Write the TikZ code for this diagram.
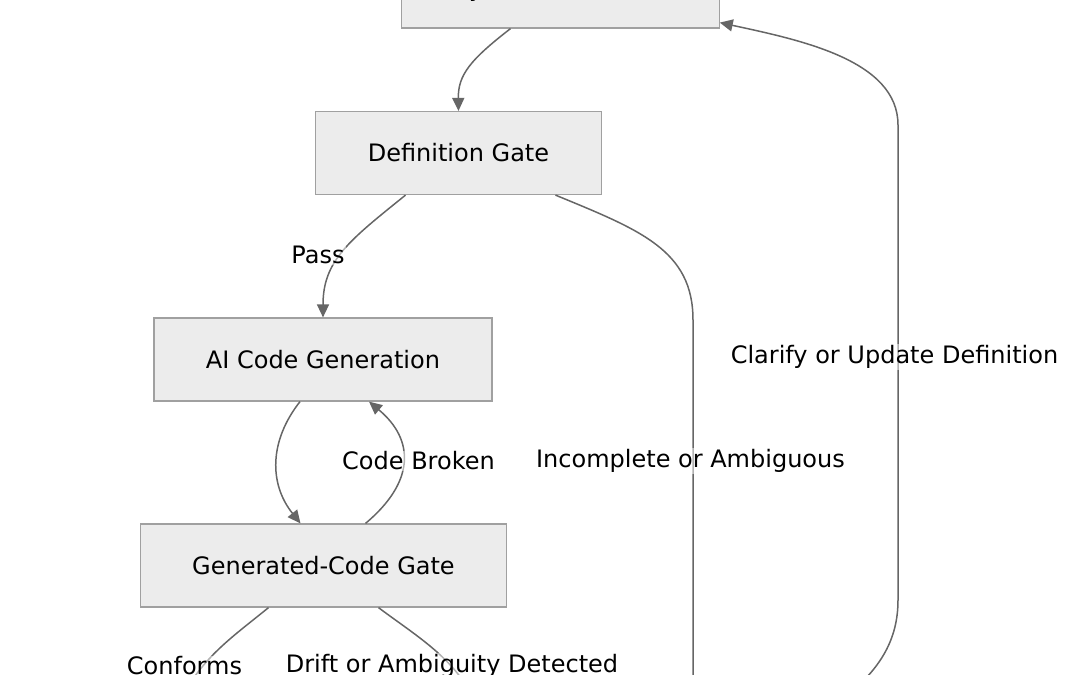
\documentclass[tikz,border=0pt]{standalone}
\usepackage{fontspec}
\setmainfont{DejaVu Sans}
\usetikzlibrary{arrows.meta}

\definecolor{boxfill}{RGB}{236,236,236}
\definecolor{boxline}{RGB}{160,160,160}
\definecolor{edgegray}{RGB}{102,102,102}

\begin{document}
\begin{tikzpicture}[x=1pt, y=-1pt,
  gate/.style={draw=boxline, fill=boxfill, line width=1.2pt, inner xsep=52pt,
    minimum height=83pt, font=\fontsize{24}{28}\selectfont, text=black},
  flow/.style={draw=edgegray, line width=1.5pt, -{Triangle[length=13pt,width=12pt]}},
  link/.style={draw=edgegray, line width=1.5pt},
  tag/.style={fill=white, fill opacity=0.5, text opacity=1, inner sep=1pt,
    font=\fontsize{24}{28}\selectfont, text=black}]

  % Frame
  \useasboundingbox (0,0) rectangle (1080,675);
  \clip (0,0) rectangle (1080,675);

  % Boxes
  \node[gate, minimum height=76pt] (sysdef) at (560.5,-10) {System Definition};
  \node[gate] (defgate) at (458.5,153)   {Definition Gate};
  \node[gate] (aigen)   at (323,359.5)   {AI Code Generation};
  \node[gate] (gengate) at (323.5,565.5) {Generated-Code Gate};

  % Loose ends below the frame
  \coordinate (outleft)  at (183,695);
  \coordinate (outmid)   at (472,695);
  \coordinate (outdown)  at (693,700);
  \coordinate (outright) at (848,695);

  % Main path
  \draw[flow] ([xshift=-50pt]sysdef.south) .. controls (470,60) and (458,75) .. (defgate.north);
  \draw[flow] ([xshift=-53pt]defgate.south) .. controls (350,240) and (323,260) .. (aigen.north);
  \draw[flow] ([xshift=-23pt]aigen.south) .. controls (269,441) and (269,484) .. ([xshift=-23pt]gengate.north);
  \draw[flow] ([xshift=42pt]gengate.north) .. controls (415,482) and (415,440) .. ([xshift=46pt]aigen.south);

  % Exits
  \draw[link] ([xshift=97pt]defgate.south) .. controls (640,230) and (693,250) .. (693,320) -- (outdown);
  \draw[link] ([xshift=-55pt]gengate.south) .. controls (235,635) and (205,655) .. (outleft);
  \draw[link] ([xshift=55pt]gengate.south) .. controls (415,635) and (450,655) .. (outmid);

  % Return loop
  \draw[flow] (outright) .. controls (880,668) and (898,640) .. (898,600) -- (898,125)
    .. controls (898,60) and (800,40) .. ([yshift=6pt]sysdef.south east);

  % Labels
  \node[tag] (passlbl)    at (318,255)   {Pass};
  \node[tag] (brokenlbl)  at (418.5,461) {Code Broken};
  \node[tag] (ambiglbl)   at (690.5,461) {Incomplete or Ambiguous};
  \node[tag] (clarifylbl) at (894.5,357) {Clarify or Update Definition};
  \node[tag] (conformlbl) at (184.5,666) {Conforms};
  \node[tag] (driftlbl)   at (452,666)   {Drift or Ambiguity Detected};
\end{tikzpicture}
\end{document}
